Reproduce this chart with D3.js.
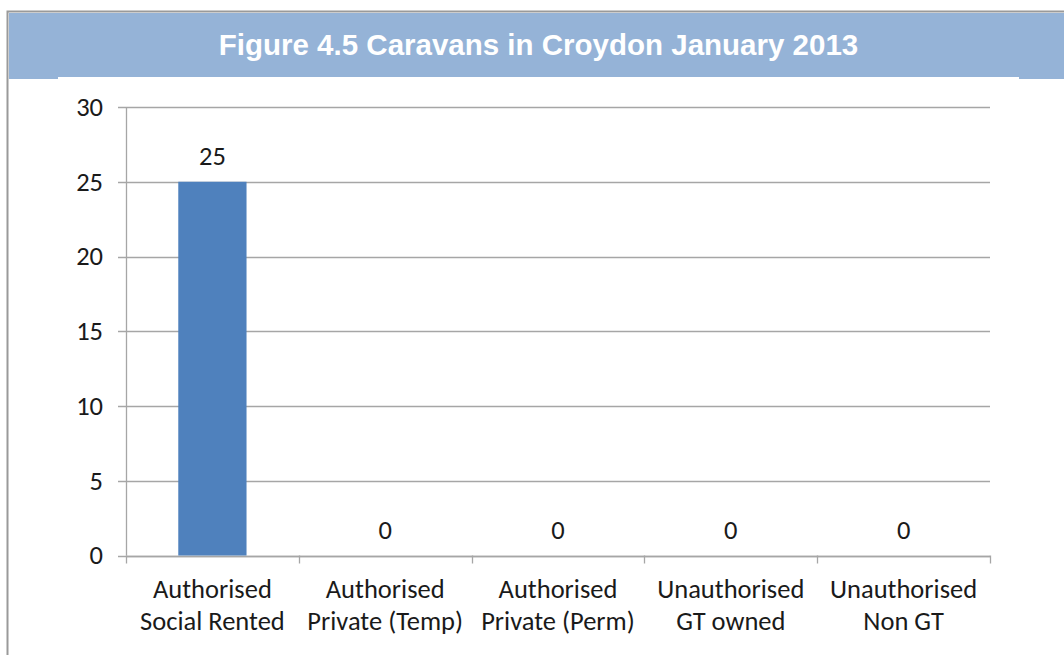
<!DOCTYPE html>
<html>
<head>
<meta charset="utf-8">
<script src="https://cdn.jsdelivr.net/npm/d3@7"></script>
<style>
  html, body { margin: 0; padding: 0; background: #ffffff; }
  svg { display: block; }
</style>
</head>
<body>
<div id="chart"></div>
<script>
// Caravan counts by site type, January 2013
const categories = [
  ["Authorised", "Social Rented"],
  ["Authorised", "Private (Temp)"],
  ["Authorised", "Private (Perm)"],
  ["Unauthorised", "GT owned"],
  ["Unauthorised", "Non GT"]
];
const values = [25, 0, 0, 0, 0];
const yTicks = [0, 5, 10, 15, 20, 25, 30];
const titleText = "Figure 4.5 Caravans in Croydon January 2013";

(function draw() {
  const W = 1064, H = 655;
  const svg = d3.select("#chart").append("svg").attr("width", W).attr("height", H);

  // Frame and title banner
  svg.append("rect").attr("x", 7.5).attr("y", 11.5).attr("width", W).attr("height", H)
    .attr("fill", "#ffffff").attr("stroke", "#9a9a9a").attr("stroke-width", 2);
  svg.append("rect").attr("x", 9).attr("y", 13).attr("width", W - 9).attr("height", 66)
    .attr("fill", "#95b3d7");
  svg.append("rect").attr("x", 58).attr("y", 77).attr("width", 961).attr("height", H - 77)
    .attr("fill", "#ffffff");
  svg.append("text").attr("x", 538.5).attr("y", 55)
    .attr("text-anchor", "middle")
    .attr("font-family", "'Liberation Sans', Arial, sans-serif")
    .attr("font-weight", "bold").attr("font-size", 29.5)
    .attr("fill", "#ffffff").text(titleText);

  // Plot area
  const pLeft = 126, pRight = 990, pTop = 107, pBottom = 555.5;
  const x = d3.scaleBand().domain(d3.range(categories.length)).range([pLeft, pRight]).paddingInner(0).paddingOuter(0);
  const y = d3.scaleLinear().domain([0, 30]).range([pBottom, pTop]);

  const font = "Carlito, Calibri, 'Open Sans', sans-serif";
  const fontSize = 26.5;
  const textColor = "#1a1a1a";
  const gridColor = "#a6a6a6";

  // Horizontal gridlines with short ticks left of the axis
  svg.append("g").selectAll("line").data(yTicks).join("line")
    .attr("x1", pLeft - 8).attr("x2", pRight)
    .attr("y1", d => Math.round(y(d)) + 0.5).attr("y2", d => Math.round(y(d)) + 0.5)
    .attr("stroke", gridColor).attr("stroke-width", 1.3);

  // Y axis with labels
  const yAxis = d3.axisLeft(y).tickValues(yTicks).tickSize(0).tickPadding(23);
  const yG = svg.append("g").attr("transform", `translate(${pLeft},0)`).call(yAxis);
  yG.select(".domain").remove();
  yG.selectAll("text").attr("font-family", font).attr("font-size", fontSize).attr("fill", textColor);
  svg.append("line").attr("x1", pLeft + 0.5).attr("x2", pLeft + 0.5).attr("y1", pTop).attr("y2", pBottom)
    .attr("stroke", gridColor).attr("stroke-width", 1.3);

  // X axis baseline and category boundary ticks
  svg.append("line").attr("x1", pLeft).attr("x2", pRight)
    .attr("y1", Math.round(pBottom) + 0.5).attr("y2", Math.round(pBottom) + 0.5)
    .attr("stroke", gridColor).attr("stroke-width", 1.5);
  const bounds = d3.range(categories.length + 1).map(i => i < categories.length ? x(i) : pRight);
  svg.append("g").selectAll("line").data(bounds).join("line")
    .attr("x1", d => Math.round(d) + 0.5).attr("x2", d => Math.round(d) + 0.5)
    .attr("y1", pBottom).attr("y2", pBottom + 8)
    .attr("stroke", gridColor).attr("stroke-width", 1.3);

  // Bars
  const barW = x.bandwidth() * 0.395;
  svg.append("g").selectAll("rect").data(values).join("rect")
    .attr("x", (d, i) => x(i) + x.bandwidth() / 2 - barW / 2)
    .attr("width", barW)
    .attr("y", d => y(d))
    .attr("height", d => y(0) - y(d))
    .attr("fill", "#4f81bd");

  // Value labels
  svg.append("g").selectAll("text").data(values).join("text")
    .attr("x", (d, i) => x(i) + x.bandwidth() / 2)
    .attr("y", d => y(d) - 17)
    .attr("text-anchor", "middle")
    .attr("font-family", font).attr("font-size", fontSize).attr("fill", textColor)
    .text(d => d);

  // Category labels, two lines each
  const catText = svg.append("g").selectAll("text").data(categories).join("text")
    .attr("x", (d, i) => x(i) + x.bandwidth() / 2)
    .attr("y", 598)
    .attr("text-anchor", "middle")
    .attr("font-family", font).attr("font-size", fontSize).attr("fill", textColor);
  catText.selectAll("tspan").data(d => d).join("tspan")
    .attr("x", function() { return d3.select(this.parentNode).attr("x"); })
    .attr("dy", (d, i) => i === 0 ? 0 : 32)
    .text(d => d);
})();
</script>
</body>
</html>
